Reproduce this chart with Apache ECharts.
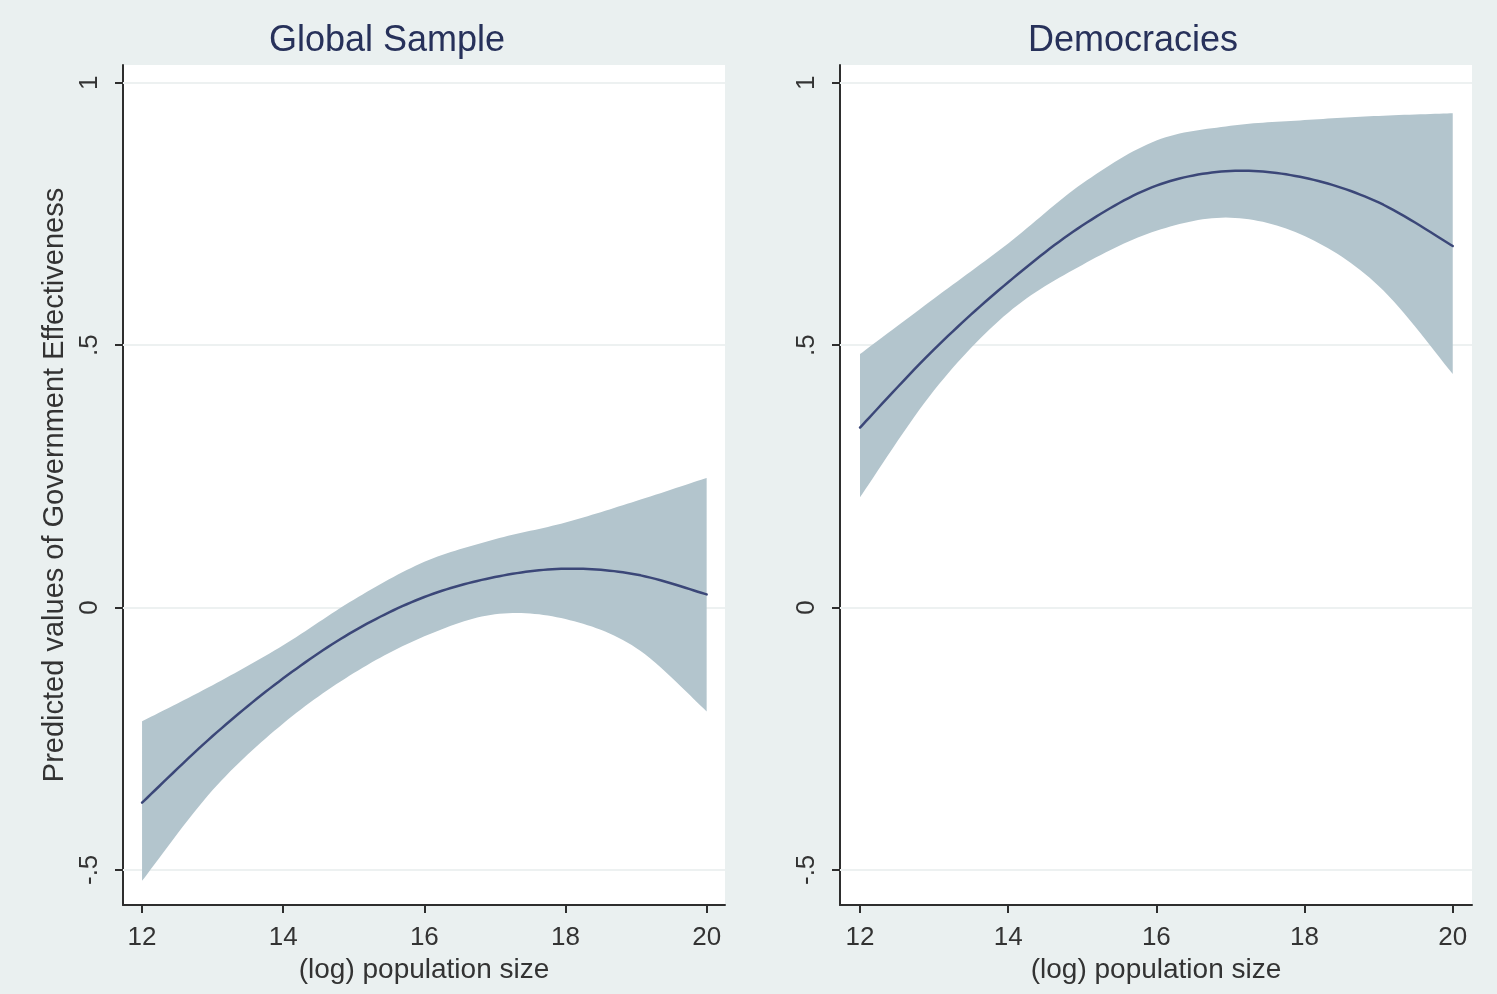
<!DOCTYPE html>
<html>
<head>
<meta charset="utf-8">
<script src="https://cdn.jsdelivr.net/npm/echarts@6/dist/echarts.min.js"></script>
<style>
html,body{margin:0;padding:0;background:#eaf0f0;}
#chart{width:1497px;height:994px;}
</style>
</head>
<body>
<div id="chart"></div>
<script>
const xVals = [12, 13, 14, 15, 16, 17, 18, 19, 20];
const xTicks = [12, 14, 16, 18, 20];
const yTicks = [-0.5, 0, 0.5, 1];
const panelTitles = ['Global Sample', 'Democracies'];

const globalFit   = [-0.372, -0.245, -0.135, -0.045, 0.020, 0.058, 0.074, 0.063, 0.025];
const globalUpper = [-0.217, -0.148, -0.072, 0.015, 0.087, 0.130, 0.162, 0.203, 0.247];
const globalLower = [-0.521, -0.348, -0.221, -0.125, -0.055, -0.013, -0.022, -0.077, -0.198];

const demoFit   = [0.343, 0.492, 0.620, 0.728, 0.804, 0.832, 0.819, 0.772, 0.689];
const demoUpper = [0.483, 0.589, 0.694, 0.808, 0.890, 0.918, 0.929, 0.937, 0.942];
const demoLower = [0.210, 0.414, 0.562, 0.653, 0.718, 0.743, 0.708, 0.613, 0.445];

const BAND = '#b3c5cd';
const LINE = '#3b4778';
const AX = '#2e2e2e';
const TXT = '#333333';

function fmtY(v) {
  if (v === 0) return '0';
  return (v < 0 ? '-' : '') + String(Math.abs(v)).replace(/^0/, '');
}

// Catmull-Rom sampling in pixel space (rendering only)
function spline(p) {
  const out = [];
  const n = p.length;
  const steps = 16;
  for (let i = 0; i < n - 1; i++) {
    const p0 = p[Math.max(0, i - 1)], p1 = p[i], p2 = p[i + 1], p3 = p[Math.min(n - 1, i + 2)];
    for (let s = 0; s < steps; s++) {
      const t = s / steps, t2 = t * t, t3 = t2 * t;
      const f = (a, b, c, d) => 0.5 * ((2 * b) + (-a + c) * t + (2 * a - 5 * b + 4 * c - d) * t2 + (-a + 3 * b - 3 * c + d) * t3);
      out.push([f(p0[0], p1[0], p2[0], p3[0]), f(p0[1], p1[1], p2[1], p3[1])]);
    }
  }
  out.push(p[n - 1]);
  return out;
}

function makeAxes(i, showName) {
  const x = {
    type: 'value', gridIndex: i, min: 11.73, max: 20.26,
    axisLine: {show: true, onZero: false, lineStyle: {color: AX, width: 2}},
    axisTick: {show: true, customValues: xTicks, length: 8, lineStyle: {color: AX, width: 2}},
    axisLabel: {customValues: xTicks, fontSize: 26, color: TXT, margin: 20, fontFamily: 'Liberation Sans'},
    splitLine: {show: false},
    name: '(log) population size', nameLocation: 'middle', nameGap: 50,
    nameTextStyle: {fontSize: 28, color: TXT, fontFamily: 'Liberation Sans'}
  };
  const y = {
    type: 'value', gridIndex: i, min: -0.567, max: 1.034,
    axisLine: {show: true, onZero: false, lineStyle: {color: AX, width: 2}},
    axisTick: {show: true, customValues: yTicks, length: 8, lineStyle: {color: AX, width: 2}},
    axisLabel: {customValues: yTicks, fontSize: 26, color: TXT, margin: 20, rotate: 90,
      fontFamily: 'Liberation Sans', formatter: fmtY},
    splitLine: {show: false}
  };
  if (showName) {
    y.name = 'Predicted values of Government Effectiveness';
    y.nameLocation = 'middle';
    y.nameGap = 54;
    y.nameRotate = 90;
    y.nameTextStyle = {fontSize: 29, color: TXT, fontFamily: 'Liberation Sans'};
  }
  return [x, y];
}

function panelSeries(i, fit, upper, lower) {
  return [
    {
      type: 'line', xAxisIndex: i, yAxisIndex: i,
      data: xVals.map((x, k) => [x, fit[k]]),
      symbol: 'none', lineStyle: {opacity: 0}, silent: true, z: 1,
      markLine: {
        z: 1, silent: true, symbol: 'none', label: {show: false},
        lineStyle: {color: '#edf1f1', width: 2, type: 'solid'},
        data: yTicks.map(v => ({yAxis: v}))
      }
    },
    {
      type: 'custom', xAxisIndex: i, yAxisIndex: i, silent: true, z: 3,
      data: xVals.map((x, k) => [x, upper[k], lower[k], fit[k]]),
      encode: {x: 0, y: [1, 2, 3]},
      renderItem: function (params, api) {
        if (params.dataIndex !== 0) return null;
        const up = xVals.map((x, k) => api.coord([x, upper[k]]));
        const lo = xVals.map((x, k) => api.coord([x, lower[k]]));
        const fp = xVals.map((x, k) => api.coord([x, fit[k]]));
        const pts = spline(up).concat(spline(lo).reverse());
        return {
          type: 'group',
          children: [
            {type: 'polygon', shape: {points: pts}, style: {fill: BAND, stroke: null}, z2: 1},
            {type: 'polyline', shape: {points: spline(fp)},
              style: {stroke: LINE, lineWidth: 2.5, fill: null, lineJoin: 'round', lineCap: 'round'}, z2: 2}
          ]
        };
      }
    }
  ];
}

const ax0 = makeAxes(0, true);
const ax1 = makeAxes(1, false);

const option = {
  backgroundColor: '#eaf0f0',
  animation: false,
  title: [
    {text: panelTitles[0], left: 382, top: 18, textAlign: 'center',
      textStyle: {fontSize: 36, fontWeight: 'normal', color: '#27315a', fontFamily: 'Liberation Sans'}},
    {text: panelTitles[1], left: 1128, top: 18, textAlign: 'center',
      textStyle: {fontSize: 36, fontWeight: 'normal', color: '#27315a', fontFamily: 'Liberation Sans'}}
  ],
  grid: [
    {left: 123, top: 65, width: 602, height: 840, show: true, backgroundColor: '#ffffff', borderWidth: 0},
    {left: 840, top: 65, width: 632, height: 840, show: true, backgroundColor: '#ffffff', borderWidth: 0}
  ],
  xAxis: [ax0[0], ax1[0]],
  yAxis: [ax0[1], ax1[1]],
  series: [].concat(
    panelSeries(0, globalFit, globalUpper, globalLower),
    panelSeries(1, demoFit, demoUpper, demoLower)
  )
};

const chart = echarts.init(document.getElementById('chart'), null, {renderer: 'canvas'});
chart.setOption(option);
</script>
</body>
</html>
